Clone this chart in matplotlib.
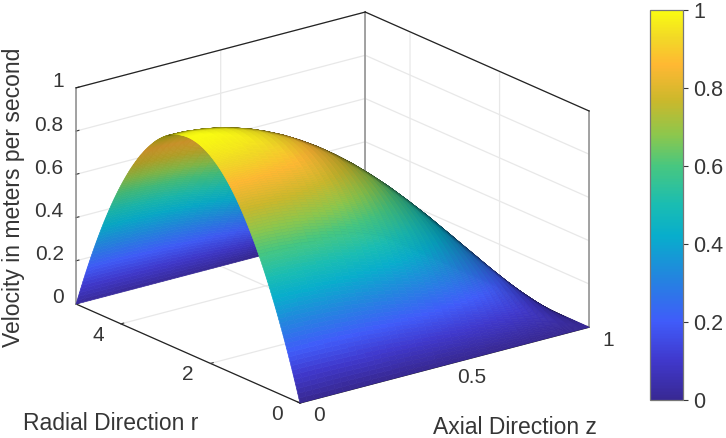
import numpy as np
import matplotlib
matplotlib.use("Agg")
import matplotlib.pyplot as plt
from matplotlib.colors import LinearSegmentedColormap, Normalize
from matplotlib.cm import ScalarMappable
from matplotlib.transforms import ScaledTranslation
from mpl_toolkits.mplot3d import proj3d

plt.rcParams['font.family'] = ['Liberation Sans', 'DejaVu Sans']

# data
z_axial = [0, .025, .05, .075, .1, .125, .15, .175, .2, .225, .25, .275, .3, .325, .35, .375, .4, .425, .45, .475,
           .5, .525, .55, .575, .6, .625, .65, .675, .7, .725, .75, .775, .8, .825, .85, .875, .9, .925, .95, .975, 1]
axial_profile = [1, .999, .998, .994, .99, .984, .978, .969, .96, .949, .938, .924, .91, .894, .878, .859, .84, .819,
                 .798, .774, .75, .724, .698, .669, .64, .609, .578, .544, .51, .474, .438, .399, .36, .319, .278,
                 .234, .19, .144, .098, .049, 0]
r_radial = [0.025 * i for i in range(201)]
radial_rise = [0, .0199, .0396, .0591, .0784, .0975, .1164, .1351, .1536, .1719, .19, .2079, .2256, .2431, .2604,
               .2775, .2944, .3111, .3276, .3439, .36, .3759, .3916, .4071, .4224, .4375, .4524, .4671, .4816, .4959,
               .51, .5239, .5376, .5511, .5644, .5775, .5904, .6031, .6156, .6279, .64, .6519, .6636, .6751, .6864,
               .6975, .7084, .7191, .7296, .7399, .75, .7599, .7696, .7791, .7884, .7975, .8064, .8151, .8236, .8319,
               .84, .8479, .8556, .8631, .8704, .8775, .8844, .8911, .8976, .9039, .91, .9159, .9216, .9271, .9324,
               .9375, .9424, .9471, .9516, .9559, .96, .9639, .9676, .9711, .9744, .9775, .9804, .9831, .9856, .9879,
               .99, .9919, .9936, .9951, .9964, .9975, .9984, .9991, .9996, .9999, 1]
radial_profile = radial_rise + radial_rise[-2::-1]
z_ticks = [0, .5, 1]
r_ticks = [0, 2, 4]
v_ticks = [0, .2, .4, .6, .8, 1]
cb_ticks = [0, .2, .4, .6, .8, 1]
x_label = 'Axial Direction z'
y_label = 'Radial Direction r'
v_label = 'Velocity in meters per second'

TXT = '#363636'
W, H = 726, 438
cmap = LinearSegmentedColormap.from_list('parula_like', [
    (0.00, (0.22, 0.16, 0.58)), (0.10, (0.25, 0.22, 0.80)), (0.20, (0.25, 0.36, 0.98)),
    (0.32, (0.13, 0.53, 0.87)), (0.42, (0.03, 0.68, 0.80)), (0.50, (0.10, 0.74, 0.70)),
    (0.60, (0.28, 0.78, 0.50)), (0.68, (0.55, 0.78, 0.30)), (0.77, (0.80, 0.72, 0.17)),
    (0.86, (1.00, 0.72, 0.20)), (0.93, (0.95, 0.85, 0.15)), (1.00, (0.98, 0.99, 0.07))])

Zg, Rg = np.meshgrid(np.array(z_axial), np.array(r_radial))
V = np.outer(np.array(radial_profile), np.array(axial_profile))

fig = plt.figure(figsize=(W / 100, H / 100), dpi=100, facecolor='white')
ax = fig.add_axes([0.1, 0.1, 0.8, 0.8], projection='3d', proj_type='ortho', facecolor='none')
ELEV, AZIM = 19.9, -127.6
BOX = (365, 367, 230)
ax.view_init(elev=ELEV, azim=AZIM)
ax.set_box_aspect(BOX)
ax.set_xlim(0, 1); ax.set_ylim(0, 5); ax.set_zlim(0, 1)
ax.set_xticks(z_ticks); ax.set_xticklabels(['0', '0.5', '1'], ha='left', va='baseline')
ax.set_yticks(r_ticks); ax.set_yticklabels(['0', '2', '4'], ha='right', va='baseline')
ax.set_zticks(v_ticks); ax.set_zticklabels(['0', '0.2', '0.4', '0.6', '0.8', '1'], ha='right', va='baseline')

# lighting
def unit(el, az):
    el, az = np.radians(el), np.radians(az)
    return np.array([np.cos(el) * np.cos(az), np.cos(el) * np.sin(az), np.sin(el)])

dv_dr = np.gradient(V, np.array(r_radial), axis=0) * BOX[2] / (BOX[1] / 5)
dv_dz = np.gradient(V, np.array(z_axial), axis=1) * BOX[2] / BOX[0]
n = np.stack([-dv_dz, -dv_dr, np.ones_like(V)], axis=-1)
n /= np.linalg.norm(n, axis=-1, keepdims=True)
nc = n @ unit(ELEV, AZIM)
nl = np.abs(n @ unit(45, AZIM - 10))
top_shade = np.clip(0.4 + 0.85 * nl, 0, 1.0) * (0.5 + 0.5 * np.clip(np.abs(nc) / 0.2, 0, 1))
under_shade = np.clip(0.55 + 0.8 * np.abs(nc), 0, 1.0)
shade = np.where(nc >= 0, top_shade, under_shade)
cols = cmap(V)
cols[..., :3] = np.clip(cols[..., :3] * shade[..., None], 0, 1)
ax.plot_surface(Zg, Rg, V, rstride=1, cstride=1, facecolors=cols, linewidth=0.5, antialiased=True, shade=False)

# box edges
ax.plot([0, 1], [5, 5], [1, 1], color='#222222', lw=0.9)
ax.plot([1, 1], [5, 0], [1, 1], color='#222222', lw=0.9)
for xx, yy in [(0, 5), (1, 5), (1, 0)]:
    ax.plot([xx, xx], [yy, yy], [0, 1], color='#8c8c8c', lw=1.1, zorder=0.5)

for axis in (ax.xaxis, ax.yaxis, ax.zaxis):
    axis.set_pane_color((1, 1, 1, 0))
    axis.pane.set_edgecolor((1, 1, 1, 0))
    axis._axinfo['grid'].update(color='#e8e8e8', linewidth=0.9)
    axis._axinfo['tick'].update(inward_factor=0.0, outward_factor=0.12, linewidth={True: 0.8, False: 0.8})
    axis.line.set_color('#222222')
    axis.line.set_linewidth(0.9)
ax.zaxis.line.set_color((1, 1, 1, 0))
ax.tick_params(axis='both', labelsize=15, colors=TXT, pad=4)
ax.tick_params(axis='z', labelsize=15, colors=TXT, pad=-3)

# nudge the floor tick labels down a little
nudge = ScaledTranslation(0, -5.5 / 72, fig.dpi_scale_trans)
for axis in (ax.xaxis, ax.yaxis):
    for t in axis.get_major_ticks():
        t.label1.set_transform(t.label1.get_transform() + nudge)

# fit box corners to layout
TARGET_FRONT = (300, H - 403)
TARGET_WIDTH = 589 - 76
size = 0.8 * W
left, bot = 0.1 * W, 0.1 * H
for _ in range(4):
    ax.set_position([left / W, bot / H, size / W, size / H])
    ax.apply_aspect()
    fig.canvas.draw()
    M = ax.get_proj()
    def px(x, y, z):
        a_, b_, _ = proj3d.proj_transform(x, y, z, M)
        return ax.transData.transform((a_, b_))
    l = px(0, 5, 0); r = px(1, 0, 0); f = px(0, 0, 0)
    size *= TARGET_WIDTH / (r[0] - l[0])
    left += TARGET_FRONT[0] - f[0]
    bot += TARGET_FRONT[1] - f[1]
ax.set_position([left / W, bot / H, size / W, size / H])

# axis titles
fig.text(515 / W, 1 - 427.5 / H, x_label, ha='center', va='center', fontsize=16.5, color=TXT)
fig.text(111 / W, 1 - 424 / H, y_label, ha='center', va='center', fontsize=16.5, color=TXT)
fig.text(14 / W, 1 - 197 / H, v_label, ha='center', va='center', rotation=90, fontsize=16.5, color=TXT)

# colour bar
cax = fig.add_axes([650 / W, 1 - 400 / H, 33 / W, 390 / H])
cb = fig.colorbar(ScalarMappable(Normalize(0, 1), cmap), cax=cax)
cb.set_ticks(cb_ticks)
cb.set_ticklabels(['0', '0.2', '0.4', '0.6', '0.8', '1'])
cax.tick_params(labelsize=15.5, colors=TXT, length=3.5, width=0.8, pad=4)
cb.outline.set_edgecolor('#777777')
cb.outline.set_linewidth(0.9)

fig.savefig('out.png', dpi=100, facecolor='white')
